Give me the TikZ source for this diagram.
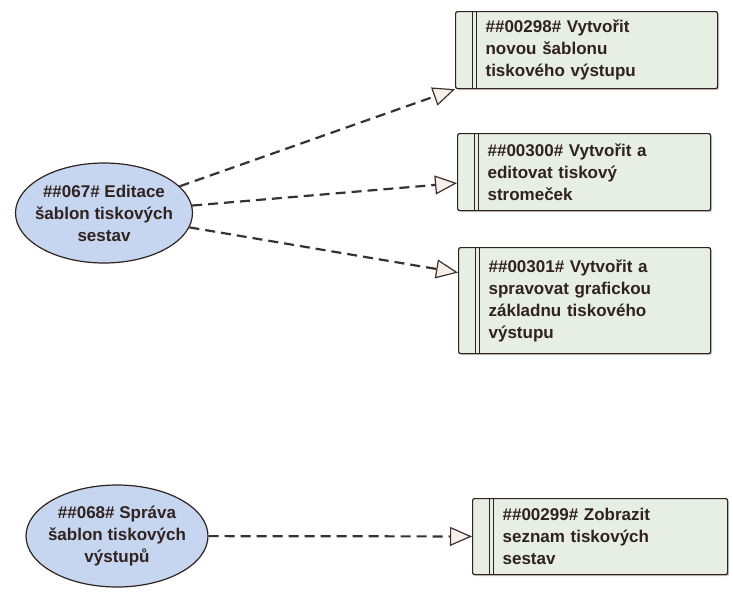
\documentclass[tikz,border=0pt]{standalone}
\usepackage{fontspec}
\setmainfont{Liberation Sans}
\usepackage{xcolor}
\definecolor{Col1}{RGB}{48,34,30}
\definecolor{Col2}{RGB}{58,48,48}
\definecolor{Col3}{RGB}{231,238,228}
\definecolor{Col4}{RGB}{198,214,241}
\definecolor{Col5}{RGB}{249,239,233}
\usetikzlibrary{shapes.geometric}
\usetikzlibrary{arrows.meta}
\usetikzlibrary{shadows}
\newcommand\Lbl{\fontsize{17}{22}\selectfont\bfseries}
\tikzstyle{UseCase}=[ellipse,draw=Col1,fill=Col4,line width=1.2pt,inner sep=0pt]
\tikzstyle{UseCaseST}=[align=center,font=\Lbl,text=Col1]
\tikzstyle{Req}=[rectangle,rounded corners=2pt,draw=Col1,fill=Col3,line width=1.2pt,
anchor=north west,inner xsep=30pt,inner ysep=0pt,align=left,font=\Lbl,text=Col1,
drop shadow={shadow xshift=1.5pt,shadow yshift=-1.5pt,opacity=.25,fill=Col1},
path picture={\foreach \d in {17,21}{\draw[Col1,line width=1.2pt]
([xshift=\d pt]path picture bounding box.north west)--
([xshift=\d pt]path picture bounding box.south west);}}]
\tikzstyle{Edge}=[draw=Col2,line width=2.2pt,dash pattern=on 10pt off 6pt,
-{Triangle[length=22pt,width=19pt,fill=Col5,line width=1.2pt]}]

\begin{document}
\begin{tikzpicture}[x=1pt,y=-1pt]
    \useasboundingbox(0,0)rectangle(733,595);
        \node[UseCase,minimum width=177pt,minimum height=100pt](e1)at(104.00,213.00){};
        \node[UseCaseST](t1)at(e1){\#\#067\# Editace\\šablon tiskových\\sestav};
        \node[UseCase,minimum width=182pt,minimum height=102pt](e2)at(117.00,536.00){};
        \node[UseCaseST](t2)at(e2){\#\#068\# Správa\\šablon tiskových\\výstupů};
        \node[Req,text width=202pt,minimum height=77pt](r1)at(455.00,11.00)
            {\#\#00298\# Vytvořit\\novou šablonu\\tiskového výstupu};
        \node[Req,text width=193pt,minimum height=77pt](r2)at(457.00,133.00)
            {\#\#00300\# Vytvořit a\\editovat tiskový\\stromeček};
        \node[Req,text width=192pt,minimum height=106pt](r3)at(458.00,247.00)
            {\#\#00301\# Vytvořit a\\spravovat grafickou\\základnu tiskového\\výstupu};
        \node[Req,text width=195pt,minimum height=76pt](r4)at(472.00,498.00)
            {\#\#00299\# Zobrazit\\seznam tiskových\\sestav};
        \draw[Edge](e1)--(r1.south west);
        \draw[Edge](e1)--([yshift=-11pt]r2.west);
        \draw[Edge](e1)--([yshift=28pt]r3.west);
        \draw[Edge](e2)--(r4);
    \end{tikzpicture}
\end{document}
